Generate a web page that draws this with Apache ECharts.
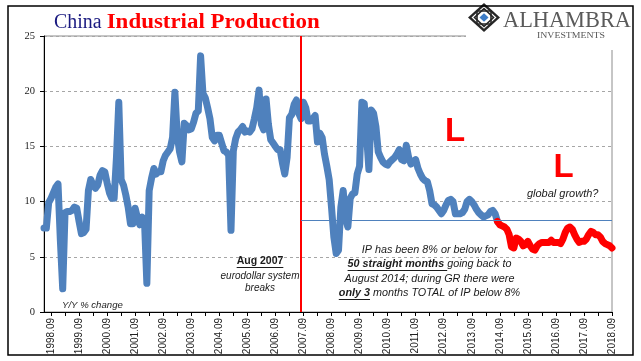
<!DOCTYPE html>
<html>
<head>
<meta charset="utf-8">
<script src="https://cdn.jsdelivr.net/npm/echarts@6/dist/echarts.min.js"></script>
<style>
html,body{margin:0;padding:0;background:#fff;}
#chart{width:641px;height:361px;}
</style>
</head>
<body>
<div id="chart"></div>
<script>
// ---------- DATA ----------
const startYear = 1998;
const startMonth = 6;           // first observation: 1998.06
const lastLabel = '2018.09';    // last observation
const redStartLabel = '2014.08';
const eventLabel = '2007.08';
const thresholdValue = 8.3;
const yAxisMin = 0, yAxisMax = 25, yAxisStep = 5;

// China industrial production, Y/Y % change (monthly, 1998.06 - 2014.07)
const ipBeforeAug2014 = [
  7.6, 7.6, 9.9, 10.3, 10.8, 11.3, 11.6,                                  // 1998.06-12
  6.5, 2.1, 9.0, 9.1, 9.1, 9.2, 9.5, 9.4, 8.2, 7.1, 7.2, 7.5,             // 1999
  11.0, 12.0, 11.5, 11.2, 11.5, 12.4, 12.8, 12.7, 11.7, 10.8, 10.3, 10.3, // 2000
  14.0, 19.0, 12.0, 11.5, 10.6, 9.5, 8.0, 8.0, 9.4, 8.5, 7.9, 8.6,        // 2001
  8.2, 2.6, 11.0, 12.1, 13.0, 12.5, 12.7, 12.7, 13.7, 14.2, 14.5, 14.8,   // 2002
  15.8, 19.9, 16.0, 14.5, 13.6, 17.1, 16.9, 16.5, 16.6, 17.2, 18.0, 18.2, // 2003
  23.2, 19.8, 19.4, 18.5, 17.5, 15.8, 15.5, 16.0, 16.0, 15.3, 14.6, 14.5, // 2004
  14.2, 7.4, 14.6, 15.7, 16.3, 16.5, 16.8, 16.3, 16.4, 16.3, 16.6, 17.5,  // 2005
  18.5, 20.1, 17.0, 16.5, 19.3, 17.0, 15.6, 15.3, 15.0, 14.7, 14.7, 13.5, // 2006
  12.5, 14.0, 17.6, 17.9, 18.8, 19.2, 18.0, 17.5, 19.0, 18.5, 17.3, 17.3, // 2007
  17.5, 17.8, 15.4, 16.2, 15.8, 14.3, 13.2, 12.0, 9.5, 6.8, 5.3, 5.6,     // 2008
  9.5, 11.0, 8.5, 7.7, 10.3, 10.7, 10.8, 12.5, 13.2, 19.0, 18.9, 16.0,    // 2009
  12.9, 18.3, 18.0, 16.8, 14.5, 14.0, 13.6, 13.4, 13.3, 13.6, 13.8, 14.0, // 2010
  14.3, 14.7, 13.8, 13.7, 15.1, 14.0, 13.4, 13.6, 13.8, 13.0, 12.5, 12.1, // 2011
  11.9, 11.8, 11.0, 9.8, 9.7, 9.5, 9.2, 8.9, 9.2, 9.7, 10.1, 10.2,        // 2012
  10.0, 8.9, 8.9, 8.9, 9.0, 9.3, 10.0, 10.2, 10.0, 9.7, 9.3, 9.0,         // 2013
  8.8, 8.6, 8.7, 8.8, 9.1, 9.2, 8.9                                       // 2014.01-07
];
// 2014.08 - 2018.09 (the 50 straight months at or below 8%)
const ipSinceAug2014 = [
  8.2, 7.9, 7.8, 7.7, 7.5,                                                // 2014.08-12
  7.0, 5.9, 5.8, 6.7, 6.6, 6.4, 6.0, 6.1, 6.4, 6.0, 5.7, 5.6,             // 2015
  6.0, 6.2, 6.3, 6.3, 6.3, 6.3, 6.5, 6.3, 6.3, 6.3, 6.2, 6.6,             // 2016
  7.2, 7.6, 7.7, 7.5, 7.0, 6.6, 6.3, 6.4, 6.4, 6.6, 7.0, 7.3,             // 2017
  7.2, 7.0, 7.0, 6.8, 6.4, 6.2, 6.1, 6.0, 5.8                             // 2018.01-09
];

// ---------- BUILD ----------
const allValues = ipBeforeAug2014.concat(ipSinceAug2014);
const months = [];
for (let k = 0; k < allValues.length; k++) {
  const m0 = startMonth - 1 + k;
  const y = startYear + Math.floor(m0 / 12);
  const m = (m0 % 12) + 1;
  months.push(y + '.' + (m < 10 ? '0' + m : '' + m));
}
const redIdx = months.indexOf(redStartLabel);
const blueData = allValues.map((v, i) => (i <= redIdx ? v : null));
const redData = allValues.map((v, i) => (i >= redIdx ? v : null));
const firstLabelIdx = months.findIndex(s => s.endsWith('.09'));

const measureCtx = document.createElement('canvas').getContext('2d');
function textWidth(font, s) { measureCtx.font = font; return measureCtx.measureText(s).width; }
const SANS = '"Liberation Sans", Arial, sans-serif';
const SERIF = '"Liberation Serif", "Times New Roman", serif';
const TXT = '#1b1b1b';

function textEl(text, font, x, y, fill, align, extra) {
  return Object.assign({
    type: 'text', z: 60, silent: true,
    style: { text, x, y, font, fill, textAlign: align || 'left', align: align || 'left',
             textVerticalAlign: 'middle', verticalAlign: 'middle' }
  }, extra || {});
}
function fitted(text, font, left, cy, targetW, fill, z) {
  const w = textWidth(font, text);
  return {
    type: 'text', z: z || 60, silent: true, x: left, y: cy, scaleX: targetW / w,
    style: { text, x: 0, y: 0, font, fill, textAlign: 'left', align: 'left',
             textVerticalAlign: 'middle', verticalAlign: 'middle' }
  };
}
function segFont(s, size) {
  return (s.i ? 'italic ' : '') + (s.b ? 'bold ' : '') + size + 'px ' + SANS;
}
function richLine(segs, cx, cy, size, color) {
  const widths = segs.map(s => textWidth(segFont(s, size), s.t));
  const total = widths.reduce((a, b) => a + b, 0);
  let x = cx - total / 2;
  const els = [];
  segs.forEach((s, k) => {
    els.push(textEl(s.t, segFont(s, size), x, cy, color, 'left'));
    if (s.u) {
      const uy = Math.round(cy + size * 0.55) + 0.5;
      els.push({ type: 'line', z: 60, silent: true,
        shape: { x1: x, y1: uy, x2: x + widths[k], y2: uy },
        style: { stroke: color, lineWidth: 1 } });
    }
    x += widths[k];
  });
  return els;
}

// logo
const lx = 484, ly = 17.5;
function diamond(hw, hh) {
  return [[lx, ly - hh], [lx + hw, ly], [lx, ly + hh], [lx - hw, ly]];
}
const logo = [
  { type: 'rect', z: 90, silent: true, shape: { x: 466, y: 7, width: 166, height: 43 }, style: { fill: '#fff' } },
  { type: 'polygon', z: 91, silent: true, shape: { points: diamond(16, 14.5) }, style: { fill: '#262626' } },
  { type: 'polygon', z: 92, silent: true, shape: { points: diamond(12.5, 11.3) }, style: { fill: '#fff' } },
  { type: 'rect', z: 93, silent: true, shape: { x: lx - 7, y: ly - 6.5, width: 14, height: 13 }, style: { fill: 'none', stroke: '#262626', lineWidth: 1.6 } },
  { type: 'polygon', z: 93, silent: true, shape: { points: diamond(9.5, 8.8) }, style: { fill: 'none', stroke: '#262626', lineWidth: 1.6 } },
  { type: 'polygon', z: 94, silent: true, shape: { points: diamond(4.5, 4.2) }, style: { fill: '#3d7cc6' } }
];

const graphics = [
  // outer frame
  { type: 'rect', z: 95, silent: true, shape: { x: 8, y: 6, width: 625, height: 349 },
    style: { fill: 'none', stroke: '#000', lineWidth: 1.5 } },
  ...logo,
  fitted('ALHAMBRA', '23px ' + SERIF, 503, 20.5, 128, '#5a5a5a', 97),
  fitted('INVESTMENTS', '9px ' + SERIF, 537, 35.8, 68, '#555', 97),
  // title
  fitted('China ', '20px ' + SERIF, 54, 23, 52.5, '#1a1a80'),
  fitted('Industrial Production', 'bold 20px ' + SERIF, 106.7, 23, 213, '#ff0000'),
  // annotations
  textEl('Y/Y % change', 'italic 9.6px ' + SANS, 62, 305, TXT, 'left'),
  ...richLine([{ t: 'Aug 2007', b: true, u: true }], 260, 261.5, 10.5, TXT),
  textEl('eurodollar system', 'italic 10px ' + SANS, 260, 276.7, TXT, 'center'),
  textEl('breaks', 'italic 10px ' + SANS, 260, 288.5, TXT, 'center'),
  ...richLine([{ t: 'IP has been 8% or below for', i: true }], 429.5, 249.5, 10.8, TXT),
  ...richLine([{ t: '50 straight months ', i: true, b: true, u: true }, { t: 'going back to', i: true }], 429.5, 264, 10.8, TXT),
  ...richLine([{ t: 'August 2014; during GR there were', i: true }], 429.5, 278.8, 10.8, TXT),
  ...richLine([{ t: 'only 3', i: true, b: true, u: true }, { t: ' months TOTAL of IP below 8%', i: true }], 429.5, 293, 10.8, TXT),
  textEl('L', 'bold 33px ' + SANS, 455, 131.5, '#ff0000', 'center'),
  textEl('L', 'bold 33px ' + SANS, 563.5, 168, '#ff0000', 'center'),
  textEl('global growth?', 'italic 11px ' + SANS, 562.7, 194.3, TXT, 'center')
];

const chart = echarts.init(document.getElementById('chart'), null, { renderer: 'canvas' });
chart.setOption({
  animation: false,
  backgroundColor: '#fff',
  grid: { left: 44, right: 29, top: 36, bottom: 49, show: true, borderColor: '#8c8c8c', borderWidth: 1, containLabel: false },
  xAxis: {
    type: 'category',
    data: months,
    boundaryGap: false,
    axisLine: { show: true, lineStyle: { color: '#000', width: 1 } },
    axisTick: { show: true, length: 4, interval: (i) => (i - firstLabelIdx) % 6 === 0, lineStyle: { color: '#000' } },
    axisLabel: {
      interval: (i) => i >= firstLabelIdx && (i - firstLabelIdx) % 12 === 0,
      rotate: 90, margin: 6, fontSize: 10,
      fontFamily: '"Liberation Sans Narrow", "Liberation Sans", Arial, sans-serif',
      color: '#222'
    },
    splitLine: { show: false }
  },
  yAxis: {
    type: 'value', min: yAxisMin, max: yAxisMax, interval: yAxisStep,
    axisLine: { show: true, lineStyle: { color: '#000', width: 1 } },
    axisTick: { show: true, length: 4, lineStyle: { color: '#000' } },
    axisLabel: { margin: 9, fontSize: 10.5, fontFamily: SERIF, color: '#222' },
    splitLine: { show: true, lineStyle: { color: '#a6a6a6', type: [3, 3], width: 1 } }
  },
  series: [
    {
      name: 'markers', type: 'line', data: [], z: 1, silent: true,
      markLine: {
        silent: true, symbol: 'none', animation: false, label: { show: false },
        data: [
          { xAxis: eventLabel, lineStyle: { color: '#ff0000', width: 2, type: 'solid' } },
          [ { coord: [eventLabel, thresholdValue], lineStyle: { color: '#4f81bd', width: 1, type: 'solid' } },
            { coord: [lastLabel, thresholdValue] } ]
        ]
      }
    },
    {
      name: 'IP', type: 'line', data: blueData, z: 3, showSymbol: false, symbol: 'none',
      connectNulls: false,
      lineStyle: { color: '#4f81bd', width: 7, cap: 'round', join: 'round' }
    },
    {
      name: 'IP since Aug 2014', type: 'line', data: redData, z: 4, showSymbol: false, symbol: 'none',
      connectNulls: false,
      lineStyle: { color: '#ff0000', width: 7, cap: 'round', join: 'round' }
    }
  ],
  graphic: graphics
});
</script>
</body>
</html>
